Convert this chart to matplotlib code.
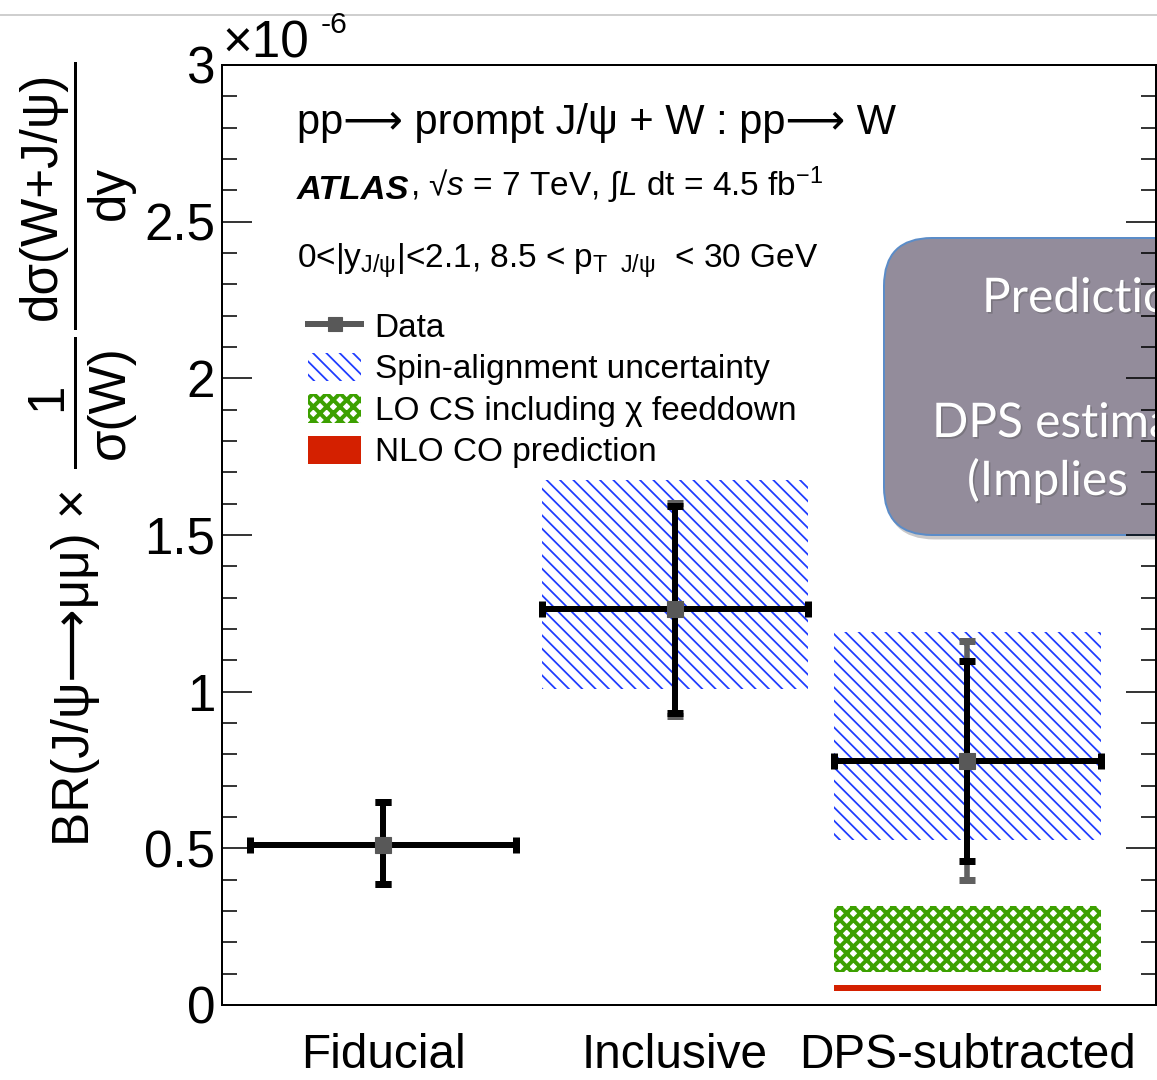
import matplotlib
matplotlib.use('Agg')
import matplotlib.pyplot as plt
import matplotlib.transforms as mtransforms
import matplotlib.patheffects as pe
from matplotlib.patches import FancyBboxPatch, Patch
from matplotlib.lines import Line2D
import numpy as np

plt.rcParams['font.family'] = ['Liberation Sans', 'DejaVu Sans']
plt.rcParams['mathtext.fontset'] = 'custom'
plt.rcParams['mathtext.rm'] = 'Liberation Sans'
plt.rcParams['mathtext.it'] = 'Liberation Sans:italic'
plt.rcParams['mathtext.bf'] = 'Liberation Sans:bold'

# data, in units of 1e-6
categories = ['Fiducial', 'Inclusive', 'DPS-subtracted']
values = np.array([0.511, 1.264, 0.779])
stat_lo = np.array([0.386, 0.932, 0.460])
stat_hi = np.array([0.648, 1.593, 1.098])
tot_lo = np.array([0.386, 0.922, 0.399])
tot_hi = np.array([0.648, 1.602, 1.162])
bin_halfwidth = 0.457

# spin-alignment envelope (Inclusive, DPS-subtracted)
spin_lo = np.array([1.009, 0.527])
spin_hi = np.array([1.676, 1.190])

# predictions for DPS-subtracted
lo_cs = (0.105, 0.316)
nlo_co = (0.045, 0.064)

W, H, DPI = 1157, 1080, 80
fig = plt.figure(figsize=(W / DPI, H / DPI), dpi=DPI)

def fx(px):
    return px / W

def fy(py):
    return 1 - py / H

def hatch_lw(artist, lw):
    # per-artist hatch width, whichever way this matplotlib reads it
    if hasattr(artist, 'set_hatch_linewidth'):
        artist.set_hatch_linewidth(lw)
    artist._hatch_linewidth = lw
    orig = artist.draw
    def draw(renderer, _orig=orig, _lw=lw):
        with plt.rc_context({'hatch.linewidth': _lw}):
            _orig(renderer)
    artist.draw = draw

ax = fig.add_axes([fx(222), fy(1005), (1156 - 222) / W, (1005 - 65) / H])
ax.set_axisbelow(False)

x = np.arange(len(categories))
blue = '#1e3cff'
green = '#3ca000'
red = '#d42000'
BLUE_LW = 1.6
GREEN_LW = 3.6

# hatched spin-alignment boxes
with plt.rc_context({'hatch.linewidth': BLUE_LW}):
    bars = ax.bar(x[1:], spin_hi - spin_lo, bottom=spin_lo, width=2 * bin_halfwidth,
                  facecolor='none', edgecolor=blue, hatch='\\\\', linewidth=0, zorder=1)
for b in bars:
    hatch_lw(b, BLUE_LW)

# LO CS band
with plt.rc_context({'hatch.linewidth': GREEN_LW}):
    gb = ax.bar([x[2]], [lo_cs[1] - lo_cs[0]], bottom=[lo_cs[0]], width=2 * bin_halfwidth,
                facecolor='white', edgecolor=green, hatch='xx', linewidth=0, zorder=1)
for b in gb:
    hatch_lw(b, GREEN_LW)

# NLO CO band
ax.bar([x[2]], [nlo_co[1] - nlo_co[0]], bottom=[nlo_co[0]], width=2 * bin_halfwidth,
       color=red, linewidth=0, zorder=1)

# total uncertainty (grey) and stat (black)
ax.errorbar(x, values, yerr=[values - tot_lo, tot_hi - values], fmt='none',
            ecolor='#606060', elinewidth=5, capsize=7.2, capthick=6.3, zorder=3)
ax.errorbar(x, values, xerr=bin_halfwidth, yerr=[values - stat_lo, stat_hi - values],
            fmt='s', color='black', ecolor='black', markerfacecolor='#585858',
            markeredgecolor='#585858', markersize=15, elinewidth=5.4, capsize=7.2,
            capthick=6.3, zorder=4)

ax.set_xlim(-161 / 292, 2.647)
ax.set_ylim(0, 3)
ax.set_xticks(x)
ax.set_xticklabels(categories, fontsize=43)
ax.tick_params(axis='x', length=0, pad=25)
ax.set_yticks(np.arange(0, 3.01, 0.5))
ax.set_yticklabels(['0', '0.5', '1', '1.5', '2', '2.5', '3'], fontsize=46)
ax.set_yticks(np.arange(0, 3.01, 0.1), minor=True)
ax.tick_params(axis='y', which='both', direction='in', right=True, pad=6)
ax.tick_params(axis='y', which='major', length=27, width=1.4)
ax.tick_params(axis='y', which='minor', length=13.5, width=1.4)
for s in ax.spines.values():
    s.set_linewidth(1.8)

# x10^-6
fig.text(fx(222), fy(58), '×10', fontsize=46, va='baseline', ha='left')
fig.text(fx(321), fy(33), '-6', fontsize=27, va='baseline', ha='left')

# y label built from pieces
fig.text(fx(76), fy(667), 'BR(J/ψ⟶μμ) ×', fontsize=46, rotation=90, ha='center', va='center')
fig.text(fx(48), fy(397), '1', fontsize=46, rotation=90, ha='center', va='center')
fig.text(fx(110), fy(402), 'σ(W)', fontsize=46, rotation=90, ha='center', va='center')
fig.add_artist(Line2D([fx(75), fx(75)], [fy(338), fy(467)], color='black', lw=2.7,
                      transform=fig.transFigure))
fig.text(fx(42), fy(196), 'dσ(W+J/ψ)', fontsize=46, rotation=90, ha='center', va='center')
fig.text(fx(110), fy(193), 'dy', fontsize=46, rotation=90, ha='center', va='center')
fig.add_artist(Line2D([fx(75), fx(75)], [fy(63), fy(328)], color='black', lw=2.7,
                      transform=fig.transFigure))

# text block
fig.text(fx(297), fy(123), 'pp⟶ prompt J/ψ + W : pp⟶ W', fontsize=37.5, va='center', ha='left')
atl = fig.text(fx(297), fy(199), 'ATLAS', fontsize=31, fontweight='bold', fontstyle='italic',
               va='baseline', ha='left')
ax.annotate(', √$s$ = 7 TeV, ∫$L$ dt = 4.5 fb$^{-1}$', xy=(1, 0), xycoords=atl,
            fontsize=30, va='bottom', ha='left', annotation_clip=False)
fig.text(fx(297), fy(268), r'0<|y$_{\mathregular{J/\psi}}$|<2.1, 8.5 < p$_{\mathregular{T\ \ J/\psi}}$  < 30 GeV',
         fontsize=30, va='baseline', ha='left')

# legend
h_data = Line2D([], [], color='#585858', lw=5.4, marker='s', markersize=12)
h_spin = Patch(facecolor='none', edgecolor=blue, hatch='\\\\', linewidth=0)
h_lo = Patch(facecolor='white', edgecolor=green, hatch='xx', linewidth=0)
h_nlo = Patch(facecolor=red, edgecolor=red, linewidth=0)
leg = fig.legend([h_data, h_spin, h_lo, h_nlo],
                 ['Data', 'Spin-alignment uncertainty', 'LO CS including χ feeddown', 'NLO CO prediction'],
                 loc='upper left', bbox_to_anchor=(fx(308), fy(311)), frameon=False, fontsize=30,
                 handlelength=1.6, handleheight=0.95, handletextpad=0.4, labelspacing=0.26,
                 borderpad=0, borderaxespad=0)
lp = leg.get_patches()
hatch_lw(lp[0], BLUE_LW)
hatch_lw(lp[1], GREEN_LW)

# slide overlay box
ident = mtransforms.IdentityTransform()
box = FancyBboxPatch((884, H - 535), 420, 297, boxstyle='round,pad=0,rounding_size=48',
                     facecolor='#938c9b', edgecolor='#5b8cc8', linewidth=1.8,
                     transform=ident, clip_on=False, zorder=2,
                     path_effects=[pe.SimplePatchShadow(offset=(2, -4), alpha=0.25), pe.Normal()])
ax.add_patch(box)
shadow = [pe.SimplePatchShadow(offset=(1.5, -1.5), alpha=0.35), pe.Normal()]
for txt, px, py in [('Prediction', 982, 312), ('DPS estimate', 932, 437), ('(Implies ', 967, 495)]:
    ax.text(px, H - py, txt, transform=ident, fontsize=43, family='Lato', color='white',
            va='baseline', ha='left', clip_on=False, zorder=2.2, path_effects=shadow)

# slide border line at top
fig.add_artist(Line2D([0, 1], [fy(15), fy(15)], color='#cfcfcf', lw=1.8, transform=fig.transFigure))

fig.savefig('out.png', dpi=DPI)
